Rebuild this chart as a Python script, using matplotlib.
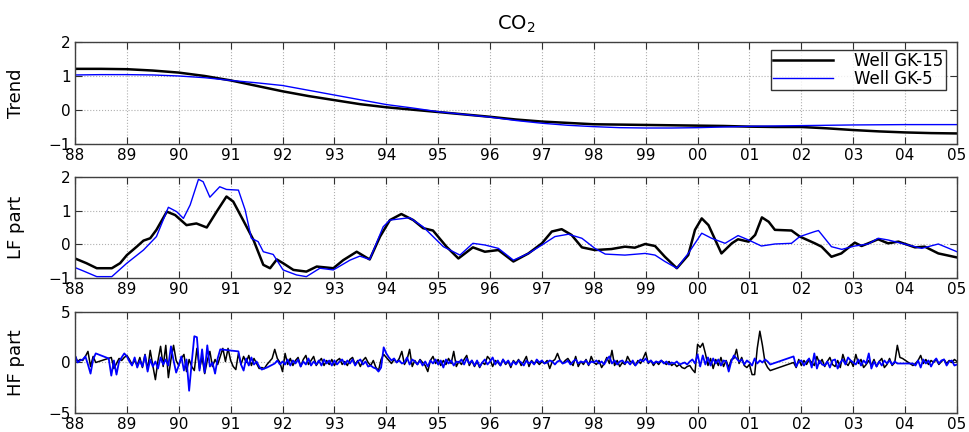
import numpy as np
import matplotlib
matplotlib.use("Agg")
import matplotlib.pyplot as plt

# ---------------- data ----------------
series_names = ["Well GK-15", "Well GK-5"]
year_ticks = list(range(88, 106))
year_labels = ["%02d" % (y % 100) for y in year_ticks]

trend_black_t = [88, 88.5, 89, 89.5, 90, 90.5, 91, 91.5, 92, 92.5, 93, 93.5, 94, 94.5, 95, 95.5,
                 96, 96.5, 97, 97.5, 98, 98.5, 99, 99.5, 100, 100.5, 101, 101.5, 102, 102.5,
                 103, 103.5, 104, 104.5, 105]
trend_black_v = [1.21, 1.21, 1.2, 1.16, 1.1, 1.0, 0.87, 0.71, 0.55, 0.41, 0.29, 0.17, 0.08, 0.01,
                 -0.06, -0.13, -0.2, -0.28, -0.34, -0.38, -0.42, -0.43, -0.44, -0.45, -0.46, -0.47,
                 -0.49, -0.5, -0.5, -0.54, -0.59, -0.63, -0.66, -0.68, -0.69]
trend_blue_t = [88, 88.5, 89, 89.5, 90, 90.5, 91, 91.5, 92, 92.5, 93, 93.5, 94, 94.5, 95, 95.5,
                96, 96.5, 97, 97.5, 98, 98.5, 99, 99.5, 100, 100.5, 101, 101.5, 102, 102.5,
                103, 104, 105]
trend_blue_v = [1.03, 1.04, 1.04, 1.03, 1.0, 0.95, 0.87, 0.8, 0.72, 0.58, 0.44, 0.3, 0.16, 0.06,
                -0.05, -0.13, -0.21, -0.31, -0.39, -0.45, -0.49, -0.52, -0.53, -0.53, -0.52, -0.5,
                -0.48, -0.47, -0.46, -0.45, -0.44, -0.43, -0.43]

lf_black_t = [88.0, 88.22, 88.42, 88.71, 88.87, 89.0, 89.19, 89.32, 89.45, 89.57, 89.77, 89.93,
              90.15, 90.34, 90.54, 90.73, 90.92, 91.05, 91.24, 91.44, 91.63, 91.76, 91.89, 92.01,
              92.21, 92.46, 92.66, 92.98, 93.17, 93.43, 93.68, 93.88, 94.07, 94.29, 94.52, 94.71,
              94.9, 95.16, 95.39, 95.67, 95.9, 96.16, 96.45, 96.74, 97.0, 97.19, 97.38, 97.57,
              97.77, 98.02, 98.34, 98.6, 98.79, 98.99, 99.18, 99.37, 99.6, 99.82, 99.95, 100.08,
              100.21, 100.46, 100.66, 100.78, 100.98, 101.11, 101.24, 101.37, 101.49, 101.81,
              101.97, 102.26, 102.39, 102.58, 102.77, 103.03, 103.16, 103.29, 103.48, 103.67,
              103.87, 104.06, 104.19, 104.38, 104.64, 105.0]
lf_black_v = [-0.42, -0.56, -0.71, -0.71, -0.56, -0.32, -0.07, 0.11, 0.18, 0.43, 0.97, 0.87,
              0.57, 0.62, 0.5, 0.97, 1.42, 1.27, 0.72, 0.13, -0.61, -0.71, -0.45, -0.56,
              -0.76, -0.81, -0.66, -0.71, -0.47, -0.22, -0.45, 0.23, 0.72, 0.9, 0.72, 0.48,
              0.41, -0.07, -0.42, -0.09, -0.22, -0.17, -0.51, -0.27, 0.03, 0.38, 0.45, 0.28,
              -0.09, -0.17, -0.14, -0.07, -0.1, 0.01, -0.05, -0.37, -0.71, -0.32, 0.43, 0.77,
              0.57, -0.27, 0.03, 0.15, 0.08, 0.28, 0.8, 0.67, 0.43, 0.41,
              0.23, 0.03, -0.07, -0.37, -0.27, 0.05, -0.05, 0.03, 0.15, 0.03,
              0.08, -0.02, -0.09, -0.07, -0.27, -0.39]
lf_blue_t = [88.0, 88.16, 88.42, 88.71, 89.0, 89.32, 89.57, 89.8, 89.96, 90.09, 90.22, 90.38,
             90.47, 90.6, 90.79, 90.92, 91.15, 91.28, 91.4, 91.53, 91.63, 91.82, 92.01, 92.27,
             92.46, 92.72, 92.98, 93.3, 93.49, 93.68, 93.94, 94.07, 94.45, 94.71, 95.1, 95.42,
             95.67, 95.9, 96.16, 96.45, 96.74, 97.0, 97.25, 97.51, 97.77, 98.02, 98.22, 98.6,
             98.99, 99.18, 99.37, 99.6, 99.82, 100.08, 100.27, 100.53, 100.78, 100.98, 101.23,
             101.49, 101.81, 101.97, 102.26, 102.33, 102.58, 102.78, 103.03, 103.29, 103.48,
             103.67, 104.06, 104.32, 104.64, 105.0]
lf_blue_v = [-0.69, -0.79, -0.96, -0.96, -0.56, -0.17, 0.23, 1.1, 0.97, 0.77, 1.17, 1.93,
             1.86, 1.4, 1.71, 1.63, 1.61, 1.02, 0.18, 0.08, -0.22, -0.3, -0.76, -0.91,
             -0.96, -0.71, -0.76, -0.47, -0.35, -0.45, 0.52, 0.72, 0.79, 0.52, -0.07, -0.32,
             0.03, -0.02, -0.12, -0.47, -0.27, -0.02, 0.23, 0.3, 0.18, -0.12, -0.29, -0.32,
             -0.27, -0.32, -0.51, -0.71, -0.27, 0.33, 0.18, 0.03, 0.26, 0.13, -0.05,
             0.01, 0.03, 0.23, 0.38, 0.41, -0.07, -0.15, -0.05, 0.01, 0.18,
             0.13, -0.02, -0.12, 0.01, -0.22]

# HF part: samples every 0.05 yr starting at 88.00 (None = no sample; line bridges the gap)
hf_start = 88.0
hf_step = 0.05
hf_black = [
    0.7, 0.1, 0.3, 0.2, 0.6, 1.1, -0.4, 0.6, 0.0, None, None, None, None, None, 0.5, -0.6, -0.1, 0.4, 0.2, 0.5,
    0.7, 0.3, -0.2, 0.2, -0.3, 0.5, -0.5, 0.8, -0.7, 1.2, -0.3, -1.7, 0.2, 1.6, -0.4, 1.7, -1.5, 0.3, 1.7, 0.2,
    -0.3, 0.4, 0.8, -0.9, 0.3, -0.4, -0.8, 1.4, -0.6, 0.5, -1.1, 0.2, 1.1, -0.4, 0.3, -0.2, 0.6, 1.4, 0.1, 1.4,
    0.2, -0.4, -0.7, 0.9, -0.2, 0.6, 0.0, 0.7, -0.3, 0.4, -0.1, -0.6, -0.5, -0.6, -0.2, 0.1, 0.4, 1.3, 0.4, 0.0,
    -0.9, 0.9, -0.2, 0.4, -0.3, 0.2, 0.5, -0.4, 0.3, 0.7, -0.2, 0.2, 0.6, -0.3, 0.1, 0.4, -0.3, 0.2, -0.2, 0.3,
    -0.3, 0.2, 0.4, -0.2, 0.1, -0.3, 0.3, 0.5, -0.2, 0.2, -0.4, 0.2, 0.5, 0.0, -0.3, 0.2, -0.5, -0.8, 0.3, 0.8,
    0.5, 0.2, -0.1, 0.3, 0.0, 0.4, 1.1, -0.2, 0.3, 1.3, -0.4, 0.2, -0.2, 0.3, 0.0, -0.3, -0.9, 0.2, 0.6, -0.1,
    0.3, -0.3, 0.2, -0.2, 0.4, -0.1, 1.1, -0.4, 0.1, -0.2, 0.3, 0.7, -0.3, 0.2, -0.4, 0.1, -0.5, 0.0, -0.2, 0.6,
    0.3, -0.4, 0.2, 0.0, -0.3, 0.3, -0.2, 0.1, -0.5, 0.2, -0.1, 0.3, -0.3, 0.1, 0.6, -0.4, 0.2, -0.1, 0.1, -0.2,
    0.1, -0.1, 0.2, -0.6, 0.1, 0.3, 0.9, 0.2, -0.1, 0.2, 0.4, 0.0, -0.3, 0.6, -0.4, 0.1, -0.2, 0.3, -0.3, 0.6,
    0.0, -0.2, 0.2, -0.5, -0.1, 0.5, -0.1, 1.2, -0.3, 0.2, -0.4, 0.0, -0.2, 0.6, 0.1, 0.0, -0.3, 0.2, -0.1, 0.4,
    1.0, -0.1, 0.2, -0.3, 0.1, -0.2, 0.2, 0.0, -0.2, 0.1, -0.3, -0.1, -0.4, -0.2, -0.5, -0.6, -0.4, -0.3, -0.7, -1.0,
    1.8, 1.5, 1.9, 0.9, -0.3, 0.4, -0.6, 0.3, -0.3, 0.5, -0.4, 0.2, -0.5, 0.3, 0.4, 1.3, -0.1, 0.5, -0.3, -0.5,
    -0.2, -1.2, -1.2, 1.4, 3.1, 1.7, 0.0, -0.5, -0.8, None, None, None, None, None, None, None, None, 0.0, -0.5, 0.3,
    -0.3, 0.2, -0.2, 0.3, 0.0, -0.3, 0.6, -0.1, 0.3, -0.4, 0.1, 0.5, -0.2, -0.4, 0.2, -0.5, 0.8, 0.0, -0.3, 0.2,
    -0.4, 0.8, -0.1, 0.3, -0.5, -0.2, 0.2, -0.3, 0.3, -0.4, 0.1, 0.4, -0.5, -0.2, 0.4, -0.3, 0.0, 1.7, 0.5, 0.4,
    None, None, None, -0.3, -0.1, 0.2, 0.7, -0.1, 0.3, -0.2, 0.2, 0.0, 0.3, -0.2, 0.1, 0.3, -0.1, 0.2, 0.0, 0.3,
    0.1]
hf_blue = [
    0.7, 0.0, 0.2, 0.3, 0.6, -0.2, -1.1, 0.3, 0.9, None, None, None, None, 0.4, -1.3, 0.2, -1.2, 0.1, 0.5, 0.9,
    0.6, 0.1, -0.3, 0.5, -0.5, 0.2, -0.4, 0.7, -0.9, 0.3, -0.4, 0.1, -0.6, 0.5, -0.2, 0.3, -0.3, 1.6, 0.2, -1.0,
    -0.3, 0.6, -0.8, 0.3, -2.8, 0.0, 2.6, 2.5, -0.8, 1.3, -1.0, 1.7, -0.4, 0.0, -1.1, 0.4, 1.3, None, None, None,
    None, None, None, 1.1, -0.2, -0.8, 0.4, -0.3, 0.5, -0.2, 0.1, -0.4, -0.7, -0.6, -0.5, None, None, -0.1, 0.2, -0.2,
    0.1, -0.2, 0.3, -0.3, 0.2, -0.1, 0.3, -0.4, 0.1, -0.2, 0.4, -0.3, 0.1, -0.2, 0.2, -0.3, 0.3, -0.1, 0.2, -0.3,
    0.2, -0.2, 0.1, 0.3, -0.2, 0.2, -0.1, 0.3, -0.3, 0.1, 0.3, -0.2, 0.1, -0.4, -0.3, -0.5, -0.6, -0.9, -0.5, 1.5,
    0.9, 0.5, 0.2, 0.4, 0.0, 0.2, -0.1, 0.0, 0.5, -0.2, 0.3, 0.1, -0.2, 0.2, -0.3, 0.1, -0.4, 0.2, -0.1, 0.3,
    -0.2, 0.2, -0.5, 0.3, -0.1, 0.2, -0.3, 0.1, 0.0, 0.3, -0.2, 0.4, -0.1, 0.2, -0.3, 0.2, -0.4, 0.0, 0.3, -0.2,
    0.1, 0.5, -0.2, 0.2, -0.3, 0.3, -0.1, 0.2, -0.3, 0.1, -0.2, 0.2, 0.0, -0.3, 0.2, -0.1, 0.1, -0.2, 0.3, 0.0,
    0.2, -0.1, 0.0, 0.2, 0.1, -0.2, 0.1, 0.2, -0.1, 0.0, 0.2, -0.2, 0.1, 0.3, -0.1, 0.1, 0.0, 0.2, -0.2, 0.1,
    0.0, 0.2, -0.1, 0.1, -0.2, 0.3, 0.6, -0.1, 0.2, -0.2, 0.1, 0.2, -0.1, 0.1, -0.2, 0.2, -0.3, 0.0, 0.3, 0.1,
    0.4, 0.0, 0.2, -0.1, 0.1, 0.0, 0.2, -0.1, 0.1, -0.2, 0.0, -0.1, 0.1, -0.2, -0.1, 0.0, -0.2, 0.1, 0.3, -0.1,
    0.8, -0.4, 0.7, -0.2, 0.5, -0.3, 0.4, -0.1, 0.3, -0.3, 0.2, 0.1, -0.9, 0.1, 0.7, 0.4, 0.1, 0.3, -0.2, 0.2,
    0.0, -0.3, 0.4, -0.1, 0.2, 0.0, 0.3, 0.1, -0.2, None, None, None, None, None, None, None, None, 0.6, -0.4, 0.1,
    0.2, -0.3, 0.1, 0.4, -0.5, 0.9, -0.6, 0.2, -0.2, -0.3, 0.1, -0.5, 0.2, 0.3, -0.6, 0.0, 0.3, -0.2, 0.5, 0.2,
    0.0, -0.2, 0.3, -0.3, 0.2, -0.1, 0.9, -0.6, 0.1, -0.4, 0.1, -0.3, 0.2, -0.1, 0.2, -0.2, 0.1, -0.1, -0.1, None,
    None, None, None, -0.1, -0.3, 0.2, -0.5, 0.3, -0.1, 0.2, -0.4, 0.1, 0.4, -0.1, 0.2, 0.3, -0.3, 0.1, 0.2, -0.3,
    -0.2]

# ---------------- figure ----------------
fig = plt.figure(figsize=(9.7, 4.32), dpi=100)
plt.rcParams['font.family'] = ['DejaVu Sans']

ax_rects = [[0.0773, 0.6667, 0.9093, 0.2361],
            [0.0773, 0.3565, 0.9093, 0.2338],
            [0.0773, 0.0440, 0.9093, 0.2338]]
axes = [fig.add_axes(r) for r in ax_rects]

BLUE = '#0000ff'


def hf_xy(vals):
    t = hf_start + hf_step * np.arange(len(vals))
    v = np.array([np.nan if x is None else x for x in vals], dtype=float)
    m = ~np.isnan(v)
    return t[m], v[m]


ax = axes[0]
ax.plot(trend_black_t, trend_black_v, color='black', lw=1.8, label=series_names[0])
ax.plot(trend_blue_t, trend_blue_v, color=BLUE, lw=1.0, label=series_names[1])
ax.set_ylim(-1, 2)
ax.set_yticks([-1, 0, 1, 2])
ax.set_ylabel('Trend', fontsize=13)
ax.set_title('CO$_2$', fontsize=14, pad=9)
leg = ax.legend(loc='upper right', fontsize=12, frameon=True, fancybox=False,
                edgecolor='black', handlelength=3.6, borderpad=0.12, labelspacing=0.0,
                handletextpad=1.3, borderaxespad=0.0, bbox_to_anchor=(0.987, 0.925))
leg.get_frame().set_linewidth(1.0)

ax = axes[1]
ax.plot(lf_black_t, lf_black_v, color='black', lw=1.8)
ax.plot(lf_blue_t, lf_blue_v, color=BLUE, lw=1.0)
ax.set_ylim(-1, 2)
ax.set_yticks([-1, 0, 1, 2])
ax.set_ylabel('LF part', fontsize=13)

ax = axes[2]
tb, vb = hf_xy(hf_black)
ax.plot(tb, vb, color='black', lw=1.1)
tl, vl = hf_xy(hf_blue)
ax.plot(tl, vl, color=BLUE, lw=1.3)
ax.set_ylim(-5, 5)
ax.set_yticks([-5, 0, 5])
ax.set_ylabel('HF part', fontsize=13)

for ax in axes:
    ax.set_xlim(88, 105)
    ax.set_xticks(year_ticks)
    ax.set_xticklabels(year_labels)
    ax.grid(True, linestyle=':', color='#b0b0b0', lw=0.8)
    ax.tick_params(direction='in', top=True, right=True, length=5, width=0.8,
                   labelsize=11, color='#303030', pad=3)
    for s in ax.spines.values():
        s.set_color('#404040')
        s.set_linewidth(1.0)
    ax.yaxis.set_label_coords(-0.057, 0.5)

fig.savefig('out.png', dpi=100)
